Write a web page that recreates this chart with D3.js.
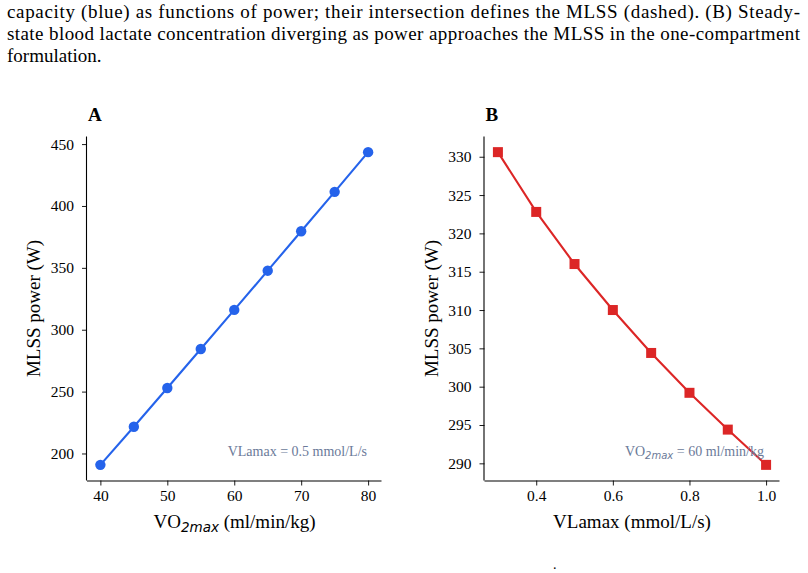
<!DOCTYPE html>
<html>
<head>
<meta charset="utf-8">
<script src="https://cdn.jsdelivr.net/npm/d3@7"></script>
<style>
  html, body { margin: 0; padding: 0; background: #fff; }
  svg { display: block; }
</style>
</head>
<body>
<svg id="chart" width="808" height="573"></svg>
<script>
// ---- data ----
const vo2max = [40, 45, 50, 55, 60, 65, 70, 75, 80];
const mlssA  = [190.8, 221.6, 252.9, 284.4, 316.0, 347.7, 379.6, 411.4, 443.5];
const vlamax = [0.3, 0.4, 0.5, 0.6, 0.7, 0.8, 0.9, 1.0];
const mlssB  = [330.6, 322.8, 316.0, 310.0, 304.4, 299.2, 294.4, 289.8];
const ticksAx = [40, 50, 60, 70, 80];
const ticksAy = [200, 250, 300, 350, 400, 450];
const ticksBx = [0.4, 0.6, 0.8, 1.0];
const ticksBy = [290, 295, 300, 305, 310, 315, 320, 325, 330];
const captionLines = [
  "capacity (blue) as functions of power; their intersection defines the MLSS (dashed). (B) Steady-",
  "state blood lactate concentration diverging as power approaches the MLSS in the one-compartment",
  "formulation."
];

const SERIF = "'Liberation Serif', 'Times New Roman', Tinos, Times, serif";
const SANS = "'DejaVu Sans', sans-serif";
const svg = d3.select("#chart");
const BLUE = "#2563eb", RED = "#dc2626", NOTE = "#6b7a99";

// caption
const capBase = [18, 40, 62];
captionLines.forEach((t, i) => {
  const el = svg.append("text").attr("x", 7).attr("y", capBase[i])
    .style("font-family", SERIF).style("font-size", "19px").attr("fill", "#000").text(t);
  if (i < 2) el.attr("textLength", 793).attr("lengthAdjust", "spacing");
});
svg.append("text").attr("x", 553).attr("y", 569).style("font-family", SERIF)
  .style("font-size", "14px").text(".");

function padDomain(arr, f) {
  const [a, b] = d3.extent(arr);
  const p = (b - a) * f;
  return [a - p, b + p];
}

function panel(opts) {
  const { left, right, top, bottom, xs, ys, xTicks, yTicks, xFmt, yFmt,
          color, marker, label } = opts;
  const x = d3.scaleLinear().domain(padDomain(xs, 0.05)).range([left, right]);
  const y = d3.scaleLinear().domain(padDomain(ys, 0.05)).range([bottom, top]);
  const g = svg.append("g");

  const ax = d3.axisBottom(x).tickValues(xTicks).tickFormat(xFmt).tickSize(5).tickPadding(4);
  const gx = g.append("g").attr("transform", `translate(0,${bottom})`).call(ax);
  const ay = d3.axisLeft(y).tickValues(yTicks).tickFormat(yFmt).tickSize(5).tickPadding(8);
  const gy = g.append("g").attr("transform", `translate(${left},0)`).call(ay);
  [gx, gy].forEach(a => {
    a.attr("font-family", null).attr("font-size", null);
    a.select(".domain").attr("stroke", "#000").attr("stroke-width", 1.1);
    a.selectAll(".tick line").attr("stroke", "#000").attr("stroke-width", 0.9);
    a.selectAll(".tick text").style("font-family", SERIF)
      .style("font-size", "15.5px").attr("fill", "#000");
  });
  gx.select(".domain").attr("d", `M${left},0.5H${right}`);
  gy.select(".domain").attr("d", `M-0.5,${bottom}V${top}`);

  const pts = xs.map((v, i) => [v, ys[i]]);
  g.append("path").datum(pts)
    .attr("fill", "none").attr("stroke", color).attr("stroke-width", 2.1)
    .attr("d", d3.line().x(d => x(d[0])).y(d => y(d[1])));
  if (marker === "circle") {
    g.selectAll("circle.m").data(pts).join("circle")
      .attr("cx", d => x(d[0])).attr("cy", d => y(d[1])).attr("r", 5.2).attr("fill", color);
  } else {
    g.selectAll("rect.m").data(pts).join("rect")
      .attr("x", d => x(d[0]) - 5).attr("y", d => y(d[1]) - 5)
      .attr("width", 10).attr("height", 10).attr("fill", color);
  }

  g.append("text").attr("x", left + 1).attr("y", 121)
    .style("font-family", SERIF).style("font-size", "19px").style("font-weight", "bold").text(label);
  g.append("text")
    .attr("transform", `translate(${left - 47},${(top + bottom) / 2}) rotate(-90)`)
    .attr("text-anchor", "middle").style("font-family", SERIF).style("font-size", "19px")
    .text("MLSS power (W)");
  return { x, y, g };
}

// Panel A
const A = panel({ left: 87, right: 381.5, top: 136.5, bottom: 480.5,
  xs: vo2max, ys: mlssA, xTicks: ticksAx, yTicks: ticksAy,
  xFmt: d3.format("d"), yFmt: d3.format("d"), color: BLUE, marker: "circle", label: "A" });
const xlA = A.g.append("text").attr("x", 234.5).attr("y", 528)
  .attr("text-anchor", "middle").style("font-family", SERIF).style("font-size", "19px");
xlA.append("tspan").text("VO");
xlA.append("tspan").style("font-family", SANS).style("font-style", "italic")
  .style("font-size", "13.5px").attr("dy", 4).text("2max");
xlA.append("tspan").attr("dy", -4).text(" (ml/min/kg)");
A.g.append("text").attr("x", 367).attr("y", 456).attr("text-anchor", "end")
  .style("font-family", SERIF).style("font-size", "14px").attr("fill", NOTE)
  .text("VLamax = 0.5 mmol/L/s");

// Panel B
const B = panel({ left: 484.5, right: 779.5, top: 136.5, bottom: 480.5,
  xs: vlamax, ys: mlssB, xTicks: ticksBx, yTicks: ticksBy,
  xFmt: d3.format(".1f"), yFmt: d3.format("d"), color: RED, marker: "square", label: "B" });
B.g.append("text").attr("x", 632).attr("y", 528).attr("text-anchor", "middle")
  .style("font-family", SERIF).style("font-size", "19px").text("VLamax (mmol/L/s)");
const anB = B.g.append("text").attr("x", 764).attr("y", 456).attr("text-anchor", "end")
  .style("font-family", SERIF).style("font-size", "14px").attr("fill", NOTE);
anB.append("tspan").text("VO");
anB.append("tspan").style("font-family", SANS).style("font-style", "italic")
  .style("font-size", "10px").attr("dy", 3).text("2max");
anB.append("tspan").attr("dy", -3).text(" = 60 ml/min/kg");
</script>
</body>
</html>
